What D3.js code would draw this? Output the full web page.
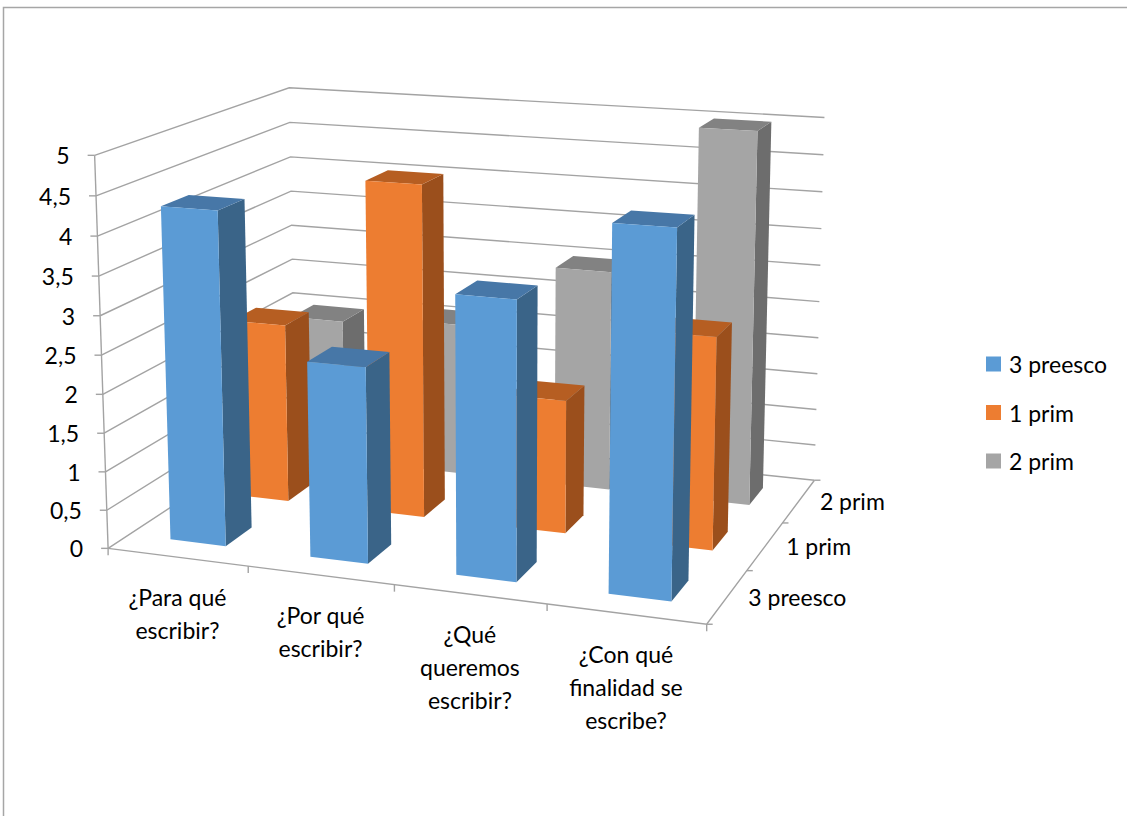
<!DOCTYPE html>
<html lang="es">
<head>
<meta charset="UTF-8">
<title>3D columnas</title>
<script src="https://d3js.org/d3.v7.min.js"></script>
<style>
  body { margin: 0; background: #fff; }
  svg { font-family: Lato, "Open Sans", sans-serif; }
  .grid { fill: none; stroke: #a3a3a3; stroke-width: 1.4; }
  .lbl { font-size: 23px; fill: #000; }
</style>
</head>
<body>
<svg width="1127" height="816"></svg>
<script>
// data
const categories = ["¿Para qué escribir?", "¿Por qué escribir?", "¿Qué queremos escribir?", "¿Con qué finalidad se escribe?"];
const categoryLines = [["¿Para qué", "escribir?"], ["¿Por qué", "escribir?"], ["¿Qué", "queremos", "escribir?"], ["¿Con qué", "finalidad se", "escribe?"]];
const seriesNames = ["3 preesco", "1 prim", "2 prim"];
const preesco3 = [4.3, 2.5, 3.5, 4.5];
const prim1 = [2.4, 4.4, 1.75, 2.75];
const prim2 = [2.0, 2.1, 3.0, 5.0];
const valueTicks = [0, 0.5, 1, 1.5, 2, 2.5, 3, 3.5, 4, 4.5, 5];

const seriesValues = [preesco3, prim1, prim2];
const colors = [
  {front: "#5b9bd5", top: "#4777a7", side: "#3a6488"},
  {front: "#ed7d31", top: "#b65e22", side: "#9b4f1c"},
  {front: "#a5a5a5", top: "#828282", side: "#6d6d6d"}
];

// camera calibration: world (cat, value, depth) -> screen
const calib = [
  [0,0,0,110,547],[0,1,0,105,471],[0,2,0,102,394],[0,3,0,100,315],[0,4,0,97.7,236],[0,5,0,95,155],
  [0,5,3,290,87],[0,4,3,290,157],[0,3,3,291,226],[0,2,3,292,293],
  [4,5,3,825,118],[4,4,3,823,193],[4,3,3,820,265],[4,2,3,817,337],[4,1,3,816,410],[4,0,3,814,480],
  [4,0,0,704,623],[1,0,0,250,568],[2,0,0,393,587],[3,0,0,545,607],[4,0,1,750,568],[4,0,2,785,522]
];

function fitCamera(pts) {
  const n = 11;
  const M = Array.from({length: n}, () => new Array(n + 1).fill(0));
  const add = (r, b) => {
    for (let i = 0; i < n; i++) {
      for (let j = 0; j < n; j++) M[i][j] += r[i] * r[j];
      M[i][n] += r[i] * b;
    }
  };
  pts.forEach(([X, Y, Z, u, v]) => {
    add([X, Y, Z, 1, 0, 0, 0, 0, -u * X, -u * Y, -u * Z], u);
    add([0, 0, 0, 0, X, Y, Z, 1, -v * X, -v * Y, -v * Z], v);
  });
  for (let c = 0; c < n; c++) {
    let p = c;
    for (let r = c + 1; r < n; r++) if (Math.abs(M[r][c]) > Math.abs(M[p][c])) p = r;
    [M[c], M[p]] = [M[p], M[c]];
    for (let r = 0; r < n; r++) {
      if (r === c) continue;
      const f = M[r][c] / M[c][c];
      for (let j = c; j <= n; j++) M[r][j] -= f * M[c][j];
    }
  }
  return M.map((row, i) => row[n] / row[i]);
}
const P = fitCamera(calib);
function proj(X, Y, Z) {
  const w = P[8] * X + P[9] * Y + P[10] * Z + 1;
  return [(P[0] * X + P[1] * Y + P[2] * Z + P[3]) / w, (P[4] * X + P[5] * Y + P[6] * Z + P[7]) / w];
}

// scales into world space
const x = d3.scaleBand().domain(categories).range([0, 4]).paddingInner(0.6).paddingOuter(0.3);
const xSlot = d3.scaleBand().domain(categories).range([0, 4]);
const z = d3.scaleBand().domain(seriesNames).range([0, 3]).paddingInner(0.6).paddingOuter(0.3);
const zSlot = d3.scaleBand().domain(seriesNames).range([0, 3]);
const y = d3.scaleLinear().domain([0, 5]).range([0, 5]);
const fmt = d3.formatLocale({decimal: ",", thousands: ".", grouping: [3], currency: ["", "€"]}).format("~g");

const svg = d3.select("svg");
const line = d3.line();
const poly = pts => line(pts.map(p => proj(...p))) + "Z";

svg.append("rect").attr("x", 3.5).attr("y", 7.5).attr("width", 1200).attr("height", 900)
  .attr("fill", "none").attr("stroke", "#a6a6a6").attr("stroke-width", 1.5);

// walls: gridlines on left and back walls
const X1 = 4, Z1 = 3;
const grid = svg.append("g");
valueTicks.forEach(v => {
  grid.append("path").attr("class", "grid")
    .attr("d", line([proj(0, y(v), 0), proj(0, y(v), Z1), proj(X1, y(v), Z1)]));
});
// floor edges and axes
grid.append("path").attr("class", "grid").attr("d", line([proj(0, 0, 0), proj(X1, 0, 0), proj(X1, 0, Z1)]));
grid.append("path").attr("class", "grid").attr("d", line([proj(0, 0, 0), proj(0, y(5), 0)]));

// value axis ticks + labels
valueTicks.forEach(v => {
  const [px, py] = proj(0, y(v), 0);
  grid.append("line").attr("class", "grid").attr("x1", px - 7).attr("x2", px).attr("y1", py).attr("y2", py);
  svg.append("text").attr("class", "lbl").attr("x", px - 25).attr("y", py)
    .attr("text-anchor", "end").attr("dominant-baseline", "central").text(fmt(v));
});

// category ticks + labels
d3.range(categories.length + 1).forEach(i => {
  const [px, py] = proj(i, 0, 0);
  grid.append("line").attr("class", "grid").attr("x1", px).attr("x2", px).attr("y1", py).attr("y2", py + 7);
});
categories.forEach((c, i) => {
  const [px, py] = proj(xSlot(c) + xSlot.bandwidth() / 2, 0, 0);
  const t = svg.append("text").attr("class", "lbl").attr("text-anchor", "middle");
  categoryLines[i].forEach((s, k) => {
    t.append("tspan").attr("x", px).attr("y", py + 40 + k * 33).attr("dominant-baseline", "central").text(s);
  });
});

// depth ticks + labels
d3.range(seriesNames.length + 1).forEach(i => {
  const [px, py] = proj(X1, 0, i);
  grid.append("line").attr("class", "grid").attr("x1", px).attr("x2", px + 6).attr("y1", py).attr("y2", py);
});
seriesNames.forEach(s => {
  const [px, py] = proj(X1, 0, zSlot(s) + zSlot.bandwidth() / 2);
  svg.append("text").attr("class", "lbl").attr("x", px + 21).attr("y", py)
    .attr("dominant-baseline", "central").text(s);
});

// bars, back row first, left to right
const bars = svg.append("g");
seriesNames.slice().reverse().forEach(s => {
  const si = seriesNames.indexOf(s);
  categories.forEach((c, ci) => {
    const x0 = x(c), x1 = x0 + x.bandwidth();
    const z0 = z(s), z1 = z0 + z.bandwidth();
    const h = y(seriesValues[si][ci]);
    const g = bars.append("g");
    g.append("path").attr("fill", colors[si].side)
      .attr("d", poly([[x1, 0, z0], [x1, 0, z1], [x1, h, z1], [x1, h, z0]]));
    g.append("path").attr("fill", colors[si].top)
      .attr("d", poly([[x0, h, z0], [x1, h, z0], [x1, h, z1], [x0, h, z1]]));
    g.append("path").attr("fill", colors[si].front)
      .attr("d", poly([[x0, 0, z0], [x1, 0, z0], [x1, h, z0], [x0, h, z0]]));
  });
});

// legend
const legend = svg.append("g").attr("transform", "translate(986,364)");
seriesNames.forEach((s, i) => {
  const row = legend.append("g").attr("transform", `translate(0,${i * 48.5})`);
  row.append("rect").attr("y", -7.5).attr("width", 15).attr("height", 15).attr("fill", colors[i].front);
  row.append("text").attr("class", "lbl").attr("x", 23).attr("dominant-baseline", "central").text(s);
});
</script>
</body>
</html>
